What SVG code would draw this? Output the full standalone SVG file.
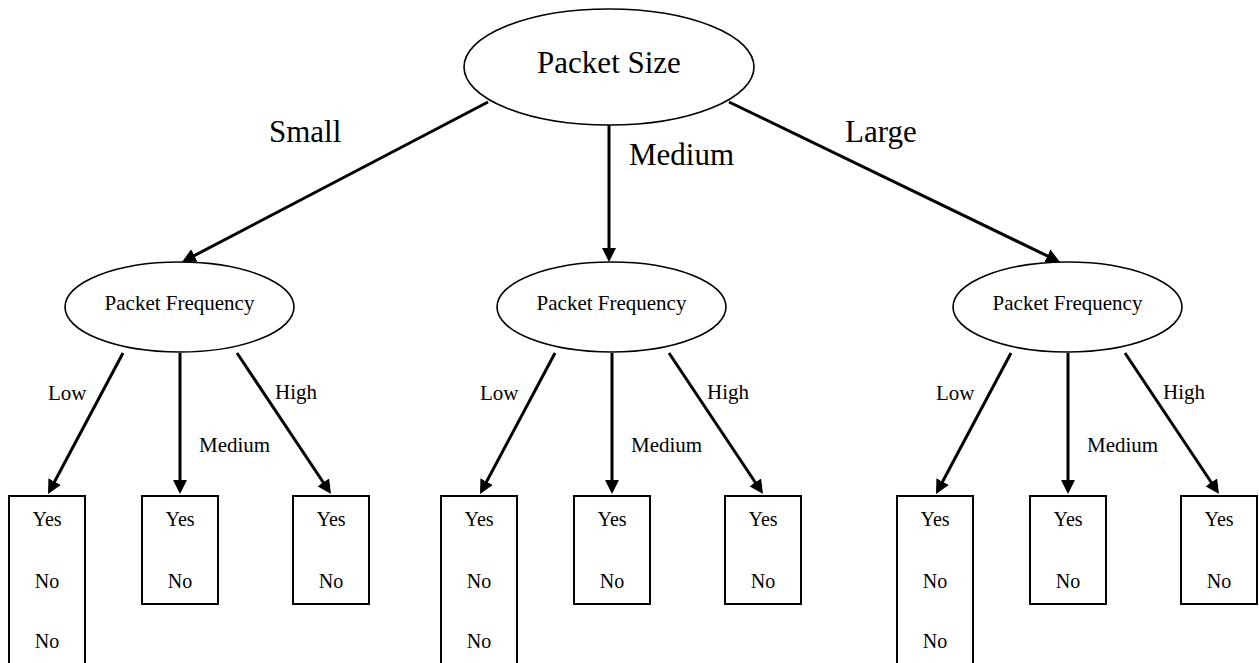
<svg xmlns="http://www.w3.org/2000/svg" width="1259" height="663" viewBox="0 0 1259 663" font-family="'Liberation Serif', 'Times New Roman', serif">
<style>
text{font-family:"Liberation Serif","Times New Roman",serif;fill:#000}
.big{font-size:31px}
.mid{font-size:21px}
.leaf{font-size:20px;text-anchor:middle}
.node{fill:#fff;stroke:#000;stroke-width:1.6}
.box{fill:#fff;stroke:#000;stroke-width:2}
.edge{stroke:#000;stroke-width:3;fill:none;marker-end:url(#arr)}
</style>
<defs>
<marker id="arr" viewBox="0 0 10 10" refX="7" refY="5" markerWidth="4.67" markerHeight="5" orient="auto">
<path d="M0,0 L10,5 L0,10 z" fill="#000"/>
</marker>
</defs>
<rect width="1259" height="663" fill="#fff"/>
<g id="connectors">
<line class="edge" x1="488" y1="102" x2="185.7" y2="260.1"/>
<line class="edge" x1="609" y1="125" x2="609" y2="257.8"/>
<line class="edge" x1="729" y1="102" x2="1056.2" y2="260.2"/>
<line class="edge" x1="123" y1="353" x2="50" y2="490.3"/>
<line class="edge" x1="180" y1="353" x2="180" y2="489.8"/>
<line class="edge" x1="237" y1="353" x2="328.7" y2="490.5"/>
<line class="edge" x1="555" y1="353" x2="482" y2="490.3"/>
<line class="edge" x1="612" y1="353" x2="612" y2="489.8"/>
<line class="edge" x1="669" y1="353" x2="760.7" y2="490.5"/>
<line class="edge" x1="1011" y1="353" x2="938" y2="490.3"/>
<line class="edge" x1="1068" y1="353" x2="1068" y2="489.8"/>
<line class="edge" x1="1125" y1="353" x2="1216.7" y2="490.5"/>
<text class="big" x="269" y="142">Small</text>
<text class="big" x="629" y="165">Medium</text>
<text class="big" x="845" y="142">Large</text>
<text class="mid" x="48" y="400">Low</text>
<text class="mid" x="199" y="452">Medium</text>
<text class="mid" x="275" y="399">High</text>
<text class="mid" x="480" y="400">Low</text>
<text class="mid" x="631" y="452">Medium</text>
<text class="mid" x="707" y="399">High</text>
<text class="mid" x="936" y="400">Low</text>
<text class="mid" x="1087" y="452">Medium</text>
<text class="mid" x="1163" y="399">High</text>
</g>
<g id="root">
<ellipse class="node" cx="609" cy="67" rx="145" ry="58"/>
<text class="big" x="609" y="73" text-anchor="middle">Packet Size</text>
</g>
<g id="freq-small">
<ellipse class="node" cx="179.5" cy="307" rx="114.5" ry="45"/>
<text class="mid" x="179.5" y="310" text-anchor="middle">Packet Frequency</text>
</g>
<g id="freq-medium">
<ellipse class="node" cx="611.5" cy="307" rx="114.5" ry="45"/>
<text class="mid" x="611.5" y="310" text-anchor="middle">Packet Frequency</text>
</g>
<g id="freq-large">
<ellipse class="node" cx="1067.5" cy="307" rx="114.5" ry="45"/>
<text class="mid" x="1067.5" y="310" text-anchor="middle">Packet Frequency</text>
</g>
<g id="leaf-s-low">
<rect class="box" x="9" y="496" width="76" height="200"/>
<text class="leaf" x="47" y="526">Yes</text><text class="leaf" x="47" y="588">No</text><text class="leaf" x="47" y="648">No</text>
</g>
<g id="leaf-s-med">
<rect class="box" x="142" y="496" width="76" height="108"/>
<text class="leaf" x="180" y="526">Yes</text><text class="leaf" x="180" y="588">No</text>
</g>
<g id="leaf-s-high">
<rect class="box" x="293" y="496" width="76" height="108"/>
<text class="leaf" x="331" y="526">Yes</text><text class="leaf" x="331" y="588">No</text>
</g>
<g id="leaf-m-low">
<rect class="box" x="441" y="496" width="76" height="200"/>
<text class="leaf" x="479" y="526">Yes</text><text class="leaf" x="479" y="588">No</text><text class="leaf" x="479" y="648">No</text>
</g>
<g id="leaf-m-med">
<rect class="box" x="574" y="496" width="76" height="108"/>
<text class="leaf" x="612" y="526">Yes</text><text class="leaf" x="612" y="588">No</text>
</g>
<g id="leaf-m-high">
<rect class="box" x="725" y="496" width="76" height="108"/>
<text class="leaf" x="763" y="526">Yes</text><text class="leaf" x="763" y="588">No</text>
</g>
<g id="leaf-l-low">
<rect class="box" x="897" y="496" width="76" height="200"/>
<text class="leaf" x="935" y="526">Yes</text><text class="leaf" x="935" y="588">No</text><text class="leaf" x="935" y="648">No</text>
</g>
<g id="leaf-l-med">
<rect class="box" x="1030" y="496" width="76" height="108"/>
<text class="leaf" x="1068" y="526">Yes</text><text class="leaf" x="1068" y="588">No</text>
</g>
<g id="leaf-l-high">
<rect class="box" x="1181" y="496" width="76" height="108"/>
<text class="leaf" x="1219" y="526">Yes</text><text class="leaf" x="1219" y="588">No</text>
</g>
</svg>
